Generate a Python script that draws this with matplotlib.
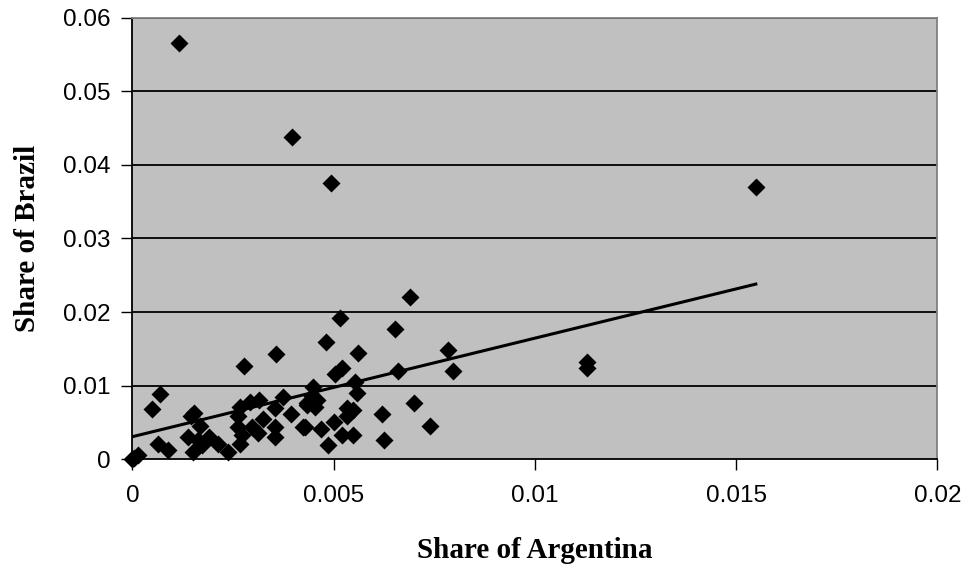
import numpy as np
import matplotlib
matplotlib.use("Agg")
import matplotlib.pyplot as plt

# share of Argentina (x) and share of Brazil (y)
argentina = [0.00115, 0.00397, 0.00493, 0.01549, 0.0113, 0.0113,
             0.0, 0.00014, 0.00068, 0.00048, 0.00063, 0.00088,
             0.00153, 0.00146, 0.00168, 0.00139, 0.00151, 0.00164,
             0.00172, 0.00189, 0.00213, 0.00238, 0.00277, 0.00357,
             0.00266, 0.00263, 0.00263, 0.00272, 0.00267, 0.00292,
             0.00315, 0.00297, 0.00313, 0.00325, 0.00354, 0.00354,
             0.00354, 0.00375, 0.00393, 0.00423, 0.00433, 0.00448,
             0.00458, 0.00689, 0.00516, 0.00653, 0.00481, 0.00560,
             0.00783, 0.00796, 0.00660, 0.00520, 0.00504, 0.00553,
             0.00558, 0.00433, 0.00454, 0.00533, 0.00549, 0.00533,
             0.00620, 0.00700, 0.00740, 0.00429, 0.00469, 0.00501,
             0.00520, 0.00549, 0.00485, 0.00624, 0.00005, 0.00445]
brazil = [0.0566, 0.0438, 0.0375, 0.0370, 0.01325, 0.01235,
          0.0, 0.0005, 0.0089, 0.0068, 0.0020, 0.0012,
          0.0063, 0.0058, 0.0045, 0.0030, 0.0010, 0.0026,
          0.0019, 0.0030, 0.0021, 0.0009, 0.0126, 0.0143,
          0.0071, 0.0058, 0.0044, 0.0033, 0.0021, 0.0077,
          0.0080, 0.0044, 0.0035, 0.0055, 0.0069, 0.0044,
          0.0030, 0.0084, 0.0061, 0.0043, 0.0074, 0.0098,
          0.0080, 0.0220, 0.0192, 0.0177, 0.0159, 0.0144,
          0.0148, 0.0120, 0.0120, 0.0124, 0.0115, 0.0105,
          0.0090, 0.0076, 0.0071, 0.0069, 0.0067, 0.0058,
          0.0061, 0.0076, 0.0045, 0.0043, 0.0041, 0.0050,
          0.0033, 0.0033, 0.0019, 0.0026, 0.0002, 0.0086]

# linear trend as drawn
trend_intercept = 0.00304
trend_slope = 1.34

x_ticks = [0, 0.005, 0.01, 0.015, 0.02]
x_labels = ["0", "0.005", "0.01", "0.015", "0.02"]
y_ticks = [0, 0.01, 0.02, 0.03, 0.04, 0.05, 0.06]
y_labels = ["0", "0.01", "0.02", "0.03", "0.04", "0.05", "0.06"]

fig = plt.figure(figsize=(9.69, 5.69), dpi=100)
ax = fig.add_axes([0.1367, 0.1933, 0.8306, 0.7751])
ax.set_facecolor("#C0C0C0")

for yv in y_ticks[1:]:
    ax.axhline(yv, color="black", lw=1.3, zorder=1)

ax.plot(argentina, brazil, linestyle="none", marker="D", ms=9.3,
        color="black", mec="none", zorder=3, clip_on=False)

tx = np.array([0, max(argentina)])
ax.plot(tx, trend_intercept + trend_slope * tx, color="black", lw=2.2, zorder=4)

ax.set_xlim(0, 0.02)
ax.set_ylim(0, 0.06)
ax.set_xticks(x_ticks)
ax.set_xticklabels(x_labels, fontsize=17.5, family="Liberation Sans")
ax.set_yticks(y_ticks)
ax.set_yticklabels(y_labels, fontsize=17.5, family="Liberation Sans")
ax.tick_params(axis="both", direction="out", length=8, width=1, color="black")
ax.tick_params(axis="y", pad=8)
ax.tick_params(axis="x", pad=11)

for s in ["left", "bottom"]:
    ax.spines[s].set_color("black")
    ax.spines[s].set_linewidth(1.3)
for s in ["top", "right"]:
    ax.spines[s].set_color("#808080")
    ax.spines[s].set_linewidth(1.3)

ax.set_xlabel("Share of Argentina", fontsize=21, fontweight="bold",
              family="Liberation Serif", labelpad=21)
ax.set_ylabel("Share of Brazil", fontsize=21, fontweight="bold",
              family="Liberation Serif", labelpad=16)

fig.savefig("out.png", dpi=100)
